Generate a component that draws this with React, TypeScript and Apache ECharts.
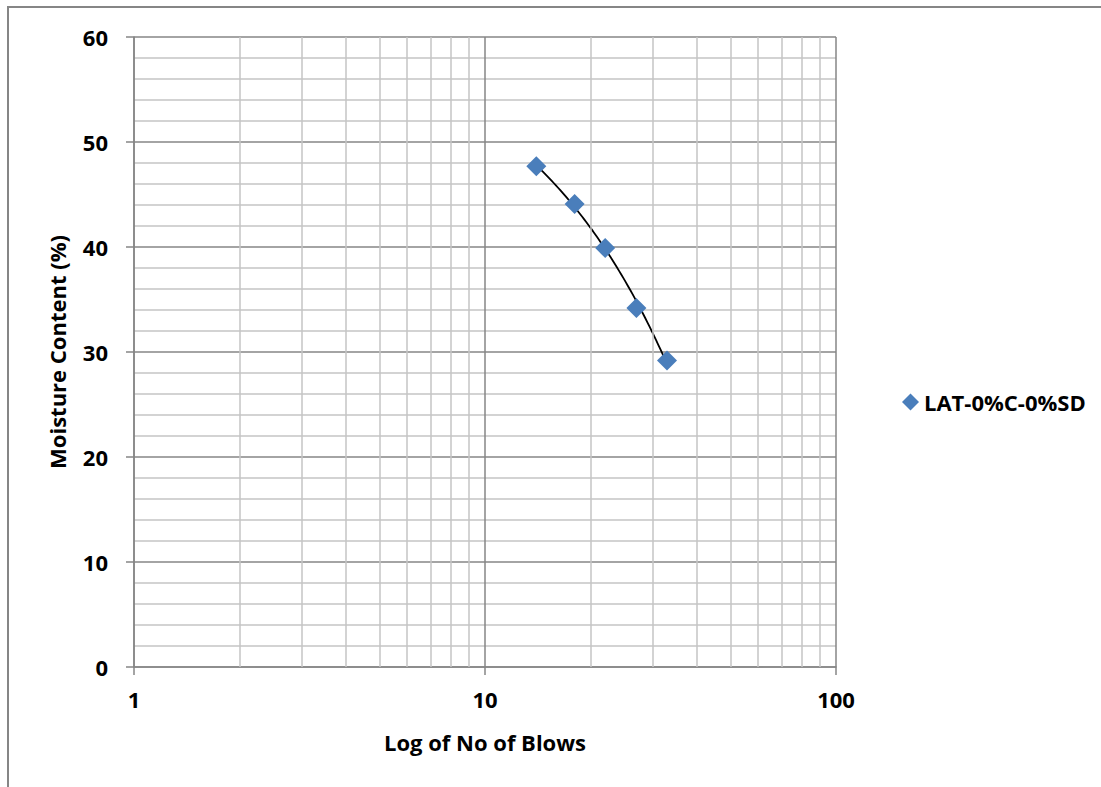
import React, { useEffect, useRef } from "react";
import * as echarts from "echarts";

// Liquid limit test: blows vs moisture content
const blows = [14, 18, 22, 27, 33];
const moisture = [47.7, 44.1, 39.9, 34.2, 29.2];
const seriesName = "LAT-0%C-0%SD";

// Intermediate log-axis gridlines (2..9, 20..90)
const minorLogTicks = [2, 3, 4, 5, 6, 7, 8, 9, 20, 30, 40, 50, 60, 70, 80, 90];

const FONT = "'Open Sans', 'Noto Sans', sans-serif";
const MAJOR = "#868686";
const MINOR = "#c4c4c4";
const MARKER = "#4a7ebb";
const FS = 22;

// Least-squares linear trend of moisture on blow count
function linearTrend(xs: number[], ys: number[]) {
  const n = xs.length;
  const mx = xs.reduce((a, b) => a + b, 0) / n;
  const my = ys.reduce((a, b) => a + b, 0) / n;
  let sxy = 0;
  let sxx = 0;
  for (let i = 0; i < n; i++) {
    sxy += (xs[i] - mx) * (ys[i] - my);
    sxx += (xs[i] - mx) * (xs[i] - mx);
  }
  const slope = sxy / sxx;
  const intercept = my - slope * mx;
  const lo = Math.min(...xs);
  const hi = Math.max(...xs);
  const pts: number[][] = [];
  const steps = 60;
  for (let i = 0; i <= steps; i++) {
    const x = lo * Math.pow(hi / lo, i / steps);
    pts.push([x, intercept + slope * x]);
  }
  return pts;
}

export default function App() {
  const ref = useRef<HTMLDivElement>(null);

  useEffect(() => {
    if (!ref.current) return;
    const chart = echarts.init(ref.current, undefined, { renderer: "svg" });
    const trend = linearTrend(blows, moisture);
    const bold = { fontFamily: FONT, fontWeight: "bold", fontSize: FS, color: "#000" };

    chart.setOption({
      animation: false,
      backgroundColor: "#ffffff",
      textStyle: { fontFamily: FONT },
      grid: { left: 134, top: 37, width: 702, height: 630, containLabel: false },
      graphic: [
        {
          type: "rect",
          shape: { x: 8, y: 7, width: 2000, height: 2000 },
          style: { fill: "none", stroke: MAJOR, lineWidth: 2 },
          silent: true,
          z: -10,
        },
      ],
      legend: {
        data: [{ name: seriesName, icon: "diamond", itemStyle: { color: MARKER, opacity: 1 } }],
        left: 897,
        top: 386,
        itemWidth: 17,
        itemHeight: 17,
        itemGap: 6,
        textStyle: bold,
      },
      xAxis: {
        type: "log",
        logBase: 10,
        min: 1,
        max: 100,
        name: "Log of No of Blows",
        nameLocation: "middle",
        nameGap: 64,
        nameTextStyle: bold,
        axisLine: { show: true, lineStyle: { color: MAJOR, width: 1.5 } },
        axisTick: { show: true, length: 8, lineStyle: { color: MAJOR, width: 1.5 } },
        axisLabel: { ...bold, margin: 21 },
        splitLine: { show: true, lineStyle: { color: MAJOR, width: 1.5 } },
      },
      yAxis: {
        type: "value",
        min: 0,
        max: 60,
        interval: 10,
        name: "Moisture Content (%)",
        nameLocation: "middle",
        nameGap: 66,
        nameTextStyle: bold,
        axisLine: { show: true, lineStyle: { color: MAJOR, width: 1.5 } },
        axisTick: { show: true, length: 8, lineStyle: { color: MAJOR, width: 1.5 } },
        axisLabel: { ...bold, margin: 26 },
        splitLine: { show: true, lineStyle: { color: MAJOR, width: 1.5 } },
        minorTick: { show: false, splitNumber: 5 },
        minorSplitLine: { show: true, lineStyle: { color: MINOR, width: 1.5 } },
      },
      series: [
        {
          name: "minor-grid",
          type: "line",
          data: [],
          silent: true,
          markLine: {
            silent: true,
            symbol: ["none", "none"],
            label: { show: false },
            lineStyle: { color: MINOR, width: 1.5, type: "solid" },
            emphasis: { disabled: true },
            data: minorLogTicks.map((v) => ({ xAxis: v })),
          },
          z: 0,
        },
        {
          name: "trend",
          type: "line",
          data: trend,
          showSymbol: false,
          symbol: "none",
          smooth: false,
          lineStyle: { color: "#000", width: 1.8 },
          silent: true,
          z: 3,
        },
        {
          name: seriesName,
          type: "scatter",
          data: blows.map((b, i) => [b, moisture[i]]),
          symbol: "diamond",
          symbolSize: 20,
          itemStyle: { color: MARKER, opacity: 1 },
          z: 4,
        },
      ],
    });

    return () => chart.dispose();
  }, []);

  return (
    <div
      ref={ref}
      style={{ position: "absolute", left: 0, top: 0, width: 1101, height: 787 }}
    />
  );
}
